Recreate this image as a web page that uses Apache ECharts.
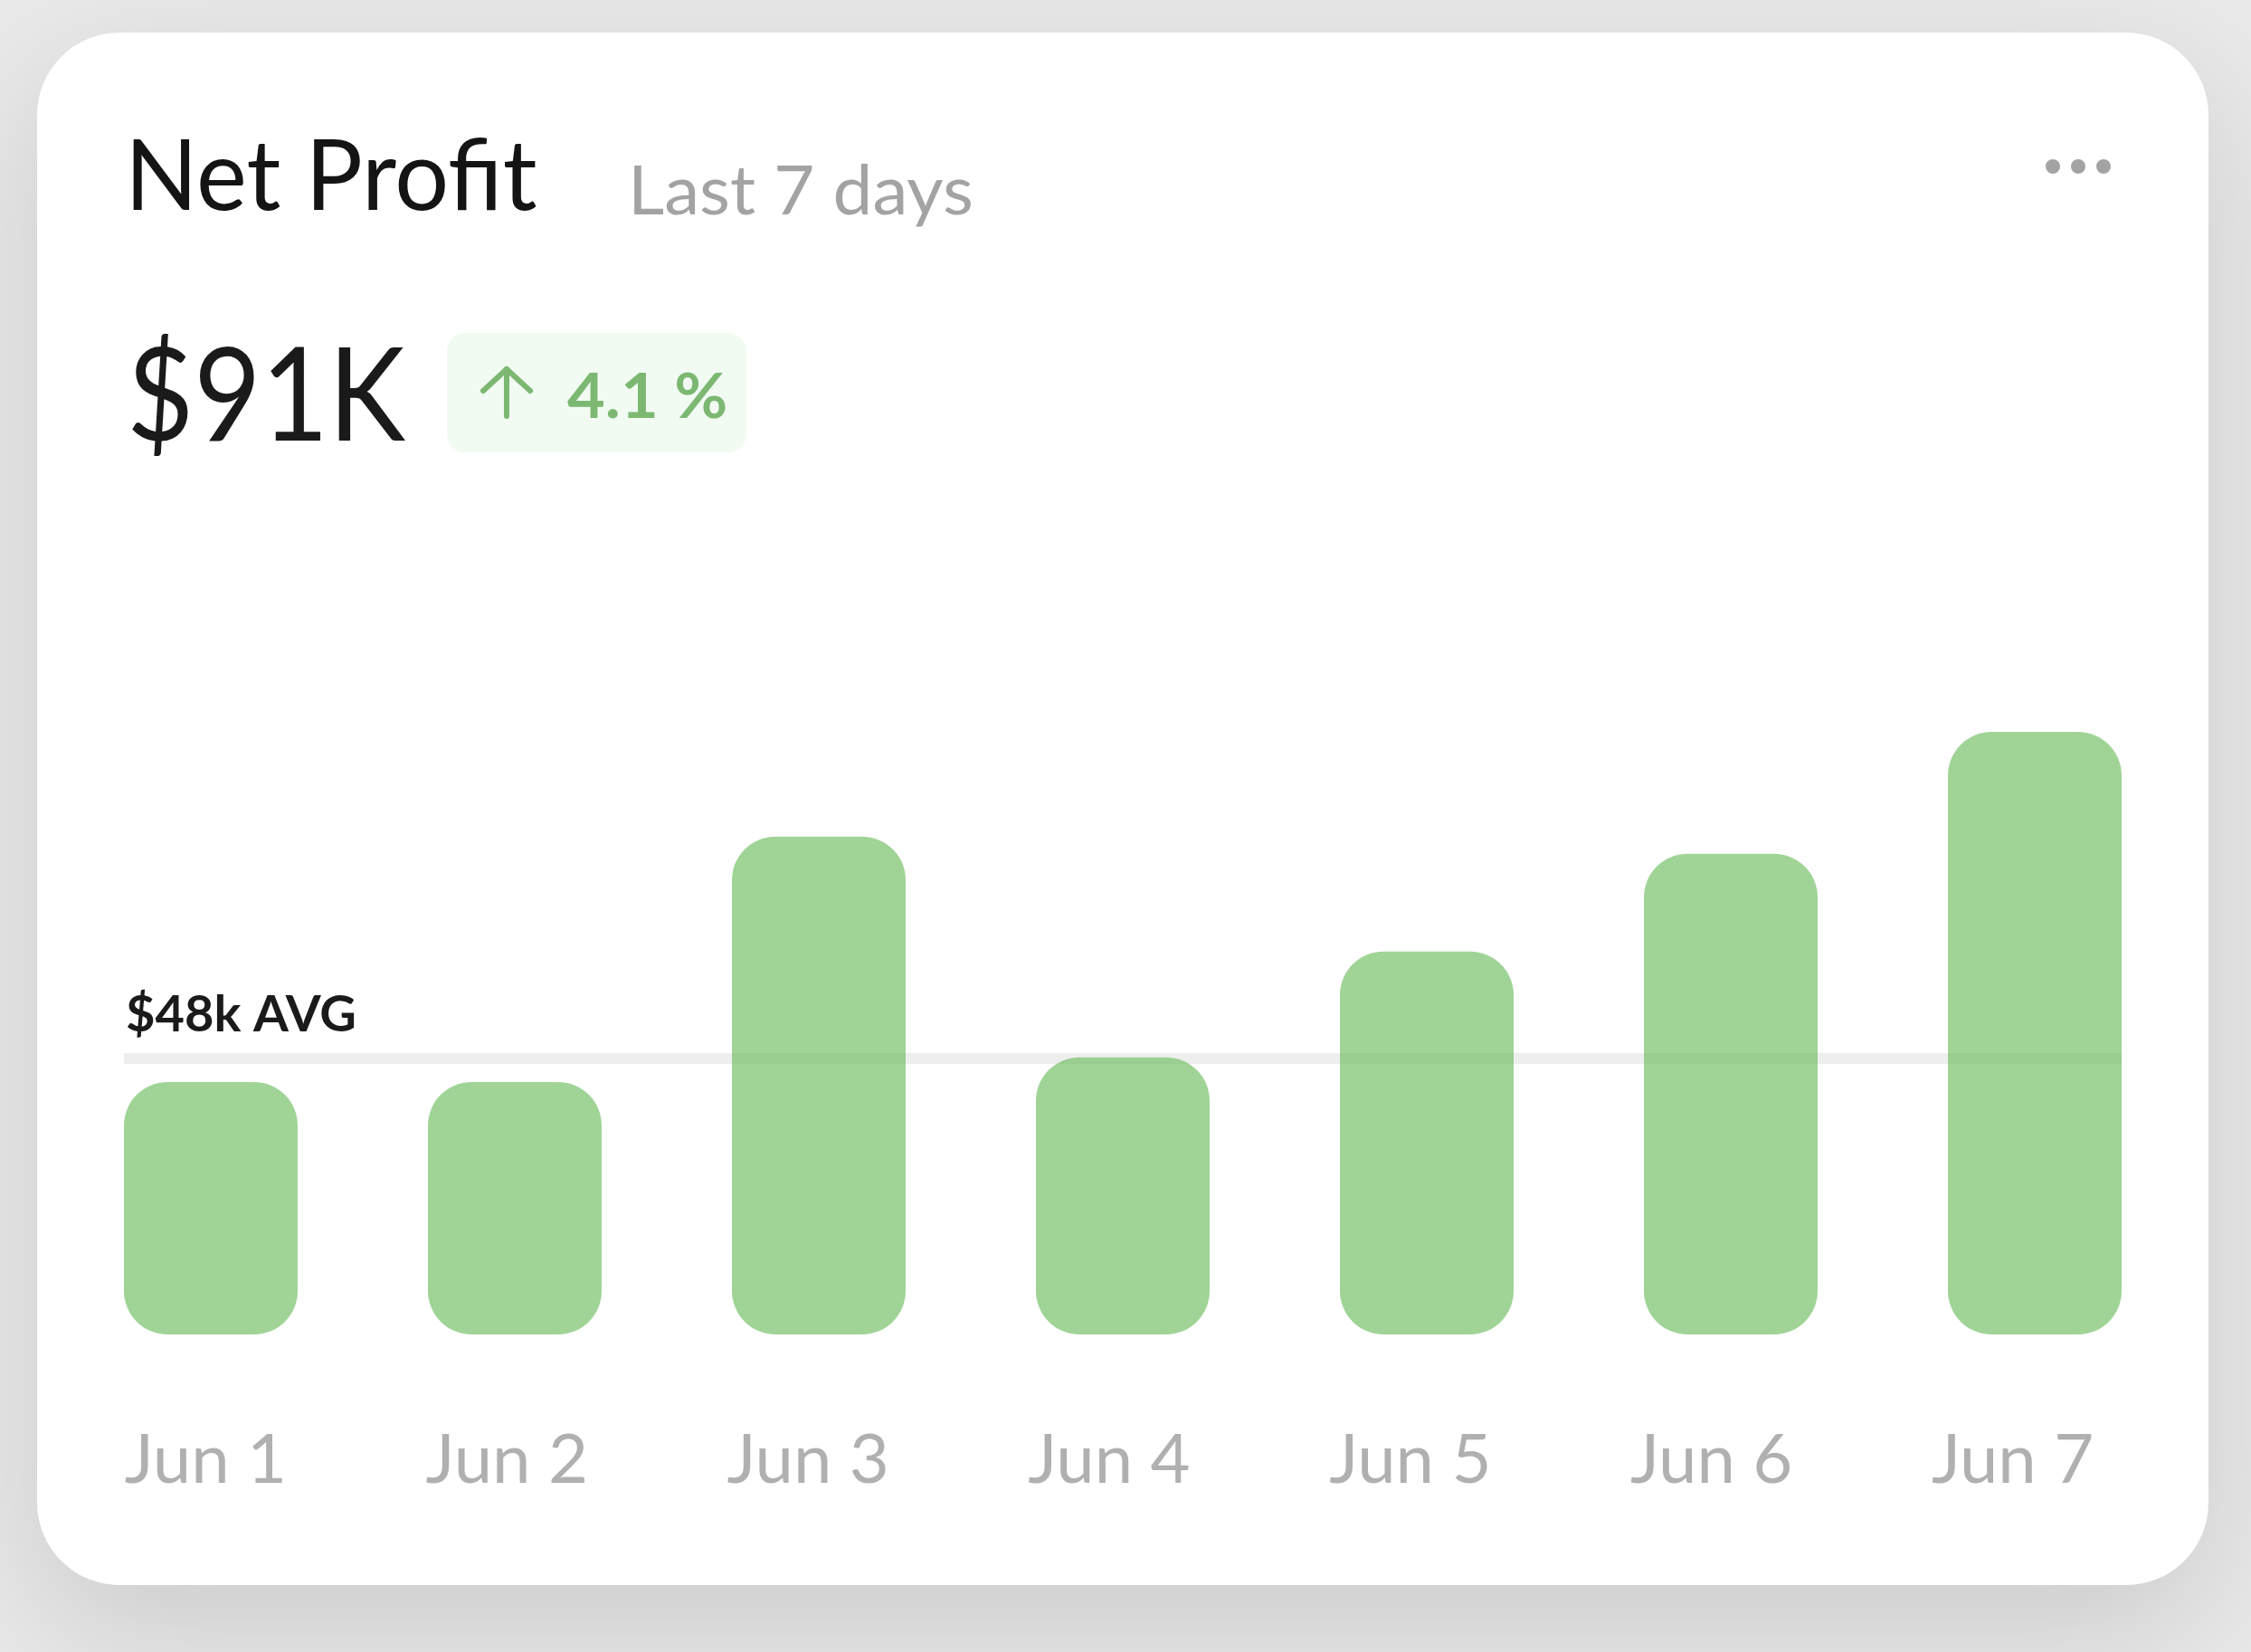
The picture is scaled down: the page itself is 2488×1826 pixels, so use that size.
<!DOCTYPE html>
<html>
<head>
<meta charset="utf-8">
<style>html,body{margin:0;padding:0;background:#e9e9e9}#chart{width:2488px;height:1826px}</style>
<script src="https://cdn.jsdelivr.net/npm/echarts@6/dist/echarts.min.js"></script>
</head>
<body>
<div id="chart"></div>
<script>
// Net profit card: daily bars against the seven-day average
const days = ['Jun 1', 'Jun 2', 'Jun 3', 'Jun 4', 'Jun 5', 'Jun 6', 'Jun 7'];
const profitK = [43.9, 43.9, 86.6, 48.2, 66.6, 83.6, 104.8];
const averageK = 48;
const averageLabel = '$48k AVG';
const cardTitle = 'Net Profit';
const cardPeriod = 'Last 7 days';
const headlineValue = '$91K';
const changeText = '4.1 %';

const FONT = 'Lato, "Open Sans", sans-serif';
const chart = echarts.init(document.getElementById('chart'), null, {renderer: 'canvas'});

function text(str, x, baseline, size, fill, sx, weight) {
  return {
    type: 'text', x: x, y: baseline + size * 0.19, scaleX: sx, z: 10,
    style: {text: str, font: (weight || 400) + ' ' + size + 'px ' + FONT, fill: fill,
             textAlign: 'left', textVerticalAlign: 'bottom'}
  };
}

chart.setOption({
  backgroundColor: '#e9e9e9',
  animation: false,
  grid: [
    {left: 65, width: 2352, top: 712.5, height: 762.5},
    {left: 61, width: 2330, top: 1475, height: 1}
  ],
  xAxis: [
    {type: 'category', gridIndex: 0, data: days, axisLine: {show: false}, axisTick: {show: false}, axisLabel: {show: false}},
    {type: 'category', gridIndex: 1, data: days, position: 'bottom', axisLine: {show: false}, axisTick: {show: false},
     axisLabel: {interval: 0, color: '#b0b0b0', fontFamily: FONT, fontSize: 76, margin: 100}}
  ],
  yAxis: [
    {type: 'value', gridIndex: 0, min: 0, max: 120, show: false},
    {type: 'value', gridIndex: 1, show: false}
  ],
  series: [{
    type: 'bar', xAxisIndex: 0, yAxisIndex: 0, data: profitK, barWidth: 192, z: 2, silent: true,
    itemStyle: {color: 'rgba(109,189,95,0.65)', borderRadius: 48},
    markLine: {
      z: 1, silent: true, symbol: 'none',
      lineStyle: {color: '#eeeeee', width: 12, type: 'solid'},
      label: {show: true, position: 'insideStartTop', formatter: averageLabel, color: '#1a1a1a',
              fontFamily: FONT, fontSize: 56, fontWeight: 700, distance: [2, 20]},
      data: [[{x: 137, yAxis: averageK}, {x: 2345, yAxis: averageK}]]
    }
  }],
  graphic: [
    {type: 'rect', z: -10, shape: {x: 41, y: 36, width: 2400, height: 1716, r: 91},
     style: {fill: '#ffffff', shadowColor: 'rgba(0,0,0,0.13)', shadowBlur: 150, shadowOffsetY: 50}},
    text(cardTitle, 138, 231, 109, '#141414', 0.97),
    text(cardPeriod, 694, 236, 76, '#a3a3a3', 1.03),
    text(headlineValue, 140, 485, 144, '#1a1a1a', 0.89),
    {type: 'rect', z: 5, shape: {x: 494, y: 368, width: 331, height: 132, r: 20}, style: {fill: '#f1fbf2'}},
    {type: 'polyline', z: 10, shape: {points: [[560, 408], [560, 460]]},
     style: {stroke: '#7cb872', lineWidth: 6, lineCap: 'round', fill: null}},
    {type: 'polyline', z: 10, shape: {points: [[534, 432], [560, 408], [586, 432]]},
     style: {stroke: '#7cb872', lineWidth: 6, lineCap: 'round', lineJoin: 'round', fill: null}},
    text(changeText, 627, 461, 68, '#7cb872', 1.06, 700),
    {type: 'circle', z: 10, shape: {cx: 2269, cy: 184, r: 8}, style: {fill: '#a3a3a3'}},
    {type: 'circle', z: 10, shape: {cx: 2297, cy: 184, r: 8}, style: {fill: '#a3a3a3'}},
    {type: 'circle', z: 10, shape: {cx: 2325, cy: 184, r: 8}, style: {fill: '#a3a3a3'}}
  ]
});
</script>
</body>
</html>
